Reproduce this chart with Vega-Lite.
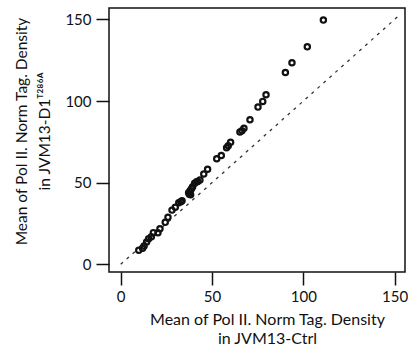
{
  "$schema": "https://vega.github.io/schema/vega-lite/v6.json",
  "autosize": "none",
  "width": 296,
  "height": 264,
  "padding": {"left": 109, "top": 8, "right": 3, "bottom": 86},
  "background": "white",
  "config": {
    "view": {"stroke": "#111", "strokeWidth": 1.5},
    "font": "Lato",
    "axis": {
      "domain": false,
      "grid": false,
      "ticks": true,
      "tickColor": "#111",
      "tickWidth": 1.5,
      "tickSize": 13,
      "labelFont": "Lato",
      "labelFontSize": 15,
      "labelColor": "#111",
      "titleFont": "Lato",
      "titleFontWeight": "normal",
      "titleColor": "#111"
    }
  },
  "datasets": {
    "pts": [
      {"ctrl": 111.0, "d1": 149.6},
      {"ctrl": 102.2, "d1": 133.2},
      {"ctrl": 93.8, "d1": 123.5},
      {"ctrl": 90.2, "d1": 117.5},
      {"ctrl": 79.6, "d1": 103.9},
      {"ctrl": 77.8, "d1": 99.8},
      {"ctrl": 75.2, "d1": 96.3},
      {"ctrl": 70.8, "d1": 88.6},
      {"ctrl": 67.5, "d1": 83.3},
      {"ctrl": 66.4, "d1": 81.8},
      {"ctrl": 65.3, "d1": 81.0},
      {"ctrl": 60.2, "d1": 74.7},
      {"ctrl": 58.9, "d1": 72.6},
      {"ctrl": 58.0, "d1": 71.4},
      {"ctrl": 55.1, "d1": 66.7},
      {"ctrl": 52.6, "d1": 64.7},
      {"ctrl": 47.6, "d1": 58.2},
      {"ctrl": 45.5, "d1": 55.3},
      {"ctrl": 43.4, "d1": 51.6},
      {"ctrl": 42.2, "d1": 50.8},
      {"ctrl": 41.6, "d1": 50.6},
      {"ctrl": 40.5, "d1": 49.6},
      {"ctrl": 39.4, "d1": 47.5},
      {"ctrl": 38.8, "d1": 46.3},
      {"ctrl": 38.0, "d1": 45.1},
      {"ctrl": 37.2, "d1": 43.8},
      {"ctrl": 38.3, "d1": 42.6},
      {"ctrl": 37.6, "d1": 42.9},
      {"ctrl": 33.6, "d1": 38.9},
      {"ctrl": 32.9, "d1": 38.3},
      {"ctrl": 31.8, "d1": 37.7},
      {"ctrl": 29.9, "d1": 34.9},
      {"ctrl": 28.1, "d1": 33.2},
      {"ctrl": 25.9, "d1": 28.8},
      {"ctrl": 24.4, "d1": 25.7},
      {"ctrl": 21.5, "d1": 21.8},
      {"ctrl": 20.4, "d1": 19.4},
      {"ctrl": 17.9, "d1": 19.4},
      {"ctrl": 16.8, "d1": 16.9},
      {"ctrl": 15.3, "d1": 15.7},
      {"ctrl": 14.2, "d1": 13.7},
      {"ctrl": 12.8, "d1": 11.2},
      {"ctrl": 12.0, "d1": 9.8},
      {"ctrl": 9.9, "d1": 8.6}
    ],
    "ref": [
      {"ctrl": 0, "d1": 0},
      {"ctrl": 153, "d1": 153}
    ]
  },
  "layer": [
    {
      "data": {"name": "ref"},
      "mark": {"type": "line", "color": "#333", "strokeWidth": 1.3, "strokeDash": [3, 5], "clip": true},
      "encoding": {
        "x": {"field": "ctrl", "type": "quantitative"},
        "y": {"field": "d1", "type": "quantitative"}
      }
    },
    {
      "data": {"name": "pts"},
      "mark": {"type": "point", "shape": "circle", "filled": false, "color": "#111", "size": 28, "strokeWidth": 2.2, "opacity": 1},
      "encoding": {
        "x": {
          "field": "ctrl",
          "type": "quantitative",
          "scale": {"domain": [-6.4, 155.7], "nice": false, "zero": false},
          "axis": {
            "values": [0, 50, 100, 150],
            "labelPadding": 4,
            "title": ["Mean of Pol II. Norm Tag. Density", "in  JVM13-Ctrl"],
            "titleFontSize": 16,
            "titleLineHeight": 19,
            "titleX": 158,
            "titlePadding": 7
          }
        },
        "y": {
          "field": "d1",
          "type": "quantitative",
          "scale": {"domain": [-4.7, 157], "nice": false, "zero": false},
          "axis": {
            "values": [0, 50, 100, 150],
            "labelPadding": 5,
            "title": ["Mean of Pol II. Norm Tag. Density", "in JVM13-D1ᵀ²⁸⁶ᴬ"],
            "titleFontSize": 15.5,
            "titleLineHeight": 23,
            "titleAngle": -90,
            "titleAlign": "center",
            "titleBaseline": "bottom",
            "titleX": -80,
            "titleY": 123
          }
        }
      }
    }
  ]
}
